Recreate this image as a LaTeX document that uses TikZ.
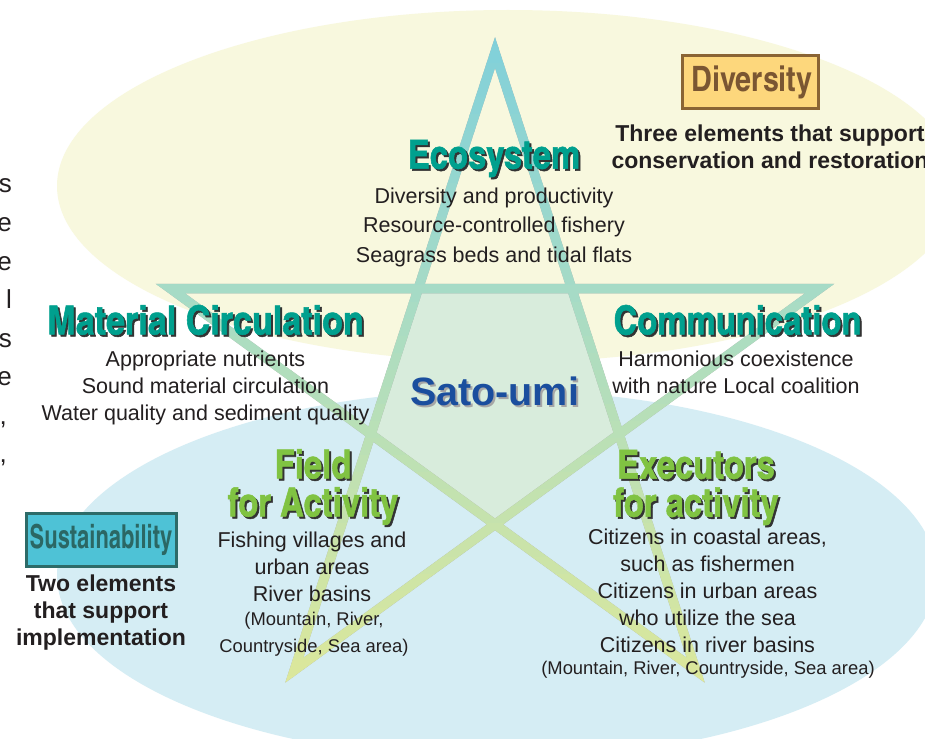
\documentclass[tikz,border=0pt]{standalone}
\usepackage{fontspec}
\setmainfont{Liberation Sans}
\newfontfamily\cnd{texgyreheroscn-bold.otf}
\newfontfamily\cndh{texgyreheroscn-bold.otf}[FakeBold=1.3]
\usetikzlibrary{calc}

\definecolor{ellY}{HTML}{F8F8DE}
\definecolor{ellB}{HTML}{D5EDF4}
\definecolor{penta}{HTML}{D8ECDC}
\definecolor{stTop}{HTML}{80D0DA}
\definecolor{stMid}{HTML}{A6DBC6}
\definecolor{stBot}{HTML}{DDE89A}
\definecolor{ttlTeal}{HTML}{00A08E}
\definecolor{ttlGreen}{HTML}{80C342}
\definecolor{satoBlue}{HTML}{1A4E9E}
\definecolor{txt}{HTML}{231F20}
\definecolor{divFill}{HTML}{FDD77C}
\definecolor{divLine}{HTML}{8A6434}
\definecolor{divText}{HTML}{7A5632}
\definecolor{susFill}{HTML}{4EC2D6}
\definecolor{susLine}{HTML}{2D6B68}
\definecolor{susText}{HTML}{2B6764}

\tikzset{
  starline/.style={line width=9.5pt, line join=miter, miter limit=10},
  ttl/.style={font=\cndh\fontsize{40}{38}\selectfont, inner sep=0pt, align=center},
  ttlshadow/.style={ttl, text=black!80},
  body/.style={font=\fontsize{21.5}{27}\selectfont, text=txt, inner sep=0pt, align=center},
  small/.style={font=\fontsize{18.4}{27}\selectfont, text=txt, inner sep=0pt, align=center},
  boldlabel/.style={font=\bfseries\fontsize{23}{27}\selectfont, text=txt, inner sep=0pt, align=center},
  cutletter/.style={font=\fontsize{26}{30}\selectfont, text=txt, inner sep=0pt, anchor=base east},
}
\newcommand{\mytitle}[4]{%
  \node[ttlshadow] (#1-s) at ($(#2)+(2,2)$) {#4};
  \node[ttl, text=#3] (#1) at (#2) {#4};}

\begin{document}
\begin{tikzpicture}[x=1pt, y=-1pt]
\useasboundingbox (0,0) rectangle (925,738);
\clip (0,0) rectangle (925,738);
\fill[white] (0,0) rectangle (925,738);

% ellipses
\fill[ellY] (508,186) ellipse [x radius=451, y radius=176];
\fill[ellB] (497,575) ellipse [x radius=440, y radius=185];

% star geometry
\coordinate (st-t)  at (495,52.6);
\coordinate (st-r)  at (819.7,288.5);
\coordinate (st-l)  at (170.3,288.5);
\coordinate (st-br) at (695.7,670.2);
\coordinate (st-bl) at (294.3,670.2);
\coordinate (in-a) at (571.6,288.5);
\coordinate (in-b) at (418.4,288.5);
\coordinate (in-c) at (371.0,434.3);
\coordinate (in-d) at (495,524.4);
\coordinate (in-e) at (619.0,434.3);

\fill[penta] (in-a) -- (in-b) -- (in-c) -- (in-d) -- (in-e) -- cycle;

% shadow
\begin{scope}[shift={(2.5,2.5)}]
\draw[starline, black!32] (st-t) -- (st-bl) -- (st-r) -- (st-l) -- (st-br) -- cycle;
\end{scope}

% graded star strokes
\foreach \i in {0,...,39} {
  \pgfmathsetmacro{\ya}{30+\i*17}
  \pgfmathsetmacro{\yb}{\ya+17.8}
  \pgfmathsetmacro{\ym}{\ya+8.5}
  \pgfmathtruncatemacro{\up}{\ym<290 ? 1 : 0}
  \ifnum\up=1
    \pgfmathtruncatemacro{\t}{max(0,min(100,(\ym-38)/252*100))}
    \colorlet{bandc}{stMid!\t!stTop}
  \else
    \pgfmathtruncatemacro{\t}{max(0,min(100,(\ym-290)/395*100))}
    \colorlet{bandc}{stBot!\t!stMid}
  \fi
  \begin{scope}
    \clip (0,\ya) rectangle (925,\yb);
    \draw[starline, bandc] (st-t) -- (st-bl) -- (st-r) -- (st-l) -- (st-br) -- cycle;
  \end{scope}
}

% titles
\mytitle{eco}{494,158.5}{ttlTeal}{Ecosystem}
\mytitle{mat}{205.5,320}{ttlTeal}{\scalebox{1.04}[1]{Material Circulation}}
\mytitle{com}{737.5,320}{ttlTeal}{Communication}
\mytitle{fld}{313,487}{ttlGreen}{Field\\for Activity}
\mytitle{exe}{696,487.5}{ttlGreen}{Executors\\for activity}

% Sato-umi
\node[font=\bfseries\fontsize{39.5}{40}\selectfont, text=black!35, inner sep=0pt] (sato-s) at (496.5,393) {Sato-umi};
\node[font=\bfseries\fontsize{39.5}{40}\selectfont, text=satoBlue, inner sep=0pt] (sato) at (494.5,391) {Sato-umi};

% bodies
\node[body, font=\fontsize{21.5}{29.5}\selectfont] (eco-b) at (494,227) {Diversity and productivity\\Resource-controlled fishery\\Seagrass beds and tidal flats};
\node[body] (mat-b) at (205.5,388) {Appropriate nutrients\\Sound material circulation\\Water quality and sediment quality};
\node[body] (com-b) at (736,372.5) {Harmonious coexistence\\with nature Local coalition};
\node[body] (fld-b) at (312,567) {Fishing villages and\\urban areas\\River basins};
\node[small] (fld-s) at (314,634.5) {(Mountain, River,\\Countryside, Sea area)};
\node[body] (exe-b) at (707.5,590.5) {Citizens in coastal areas,\\such as fishermen\\Citizens in urban areas\\who utilize the sea\\Citizens in river basins};
\node[small] (exe-s) at (708,670) {(Mountain, River, Countryside, Sea area)};

% Diversity box
\node[draw=divLine, line width=3pt, fill=divFill, minimum width=136pt, minimum height=53pt, inner sep=0pt] (div) at (750.5,82) {};
\node[font=\cnd\fontsize{35}{36}\selectfont, text=divText, inner sep=0pt] (div-t) at (752,82) {Diversity};
\node[boldlabel] (div-l) at (770,146.5) {Three elements that support\\conservation and restoration};

% Sustainability box
\node[draw=susLine, line width=3pt, fill=susFill, minimum width=150pt, minimum height=53pt, inner sep=0pt] (sus) at (101,540) {};
\node[font=\cnd\fontsize{33}{34}\selectfont, text=susText, inner sep=0pt] (sus-t) at (101,540) {\scalebox{0.81}[1]{Sustainability}};
\node[boldlabel] (sus-l) at (101,613) {Two elements\\that support\\implementation};

% cut-off letters at left edge
\node[cutletter] (c1) at (12,193) {s};
\node[cutletter] (c2) at (12,231.5) {e};
\node[cutletter] (c3) at (12,270) {e};
\node[cutletter] (c4) at (12,308.5) {l};
\node[cutletter] (c5) at (12,347) {s};
\node[cutletter] (c6) at (12,385.5) {e};
\node[cutletter] (c7) at (7,424) {,};
\node[cutletter] (c8) at (7,462.5) {,};
\end{tikzpicture}
\end{document}
